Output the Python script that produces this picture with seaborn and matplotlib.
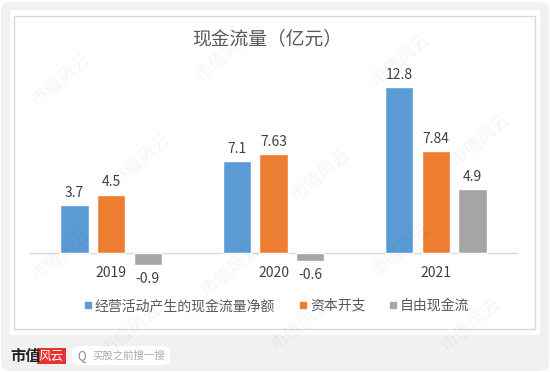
import matplotlib
matplotlib.use("Agg")
import matplotlib.pyplot as plt
from matplotlib.patches import FancyBboxPatch, Rectangle
from matplotlib.lines import Line2D
import seaborn as sns
import pandas as pd

years = ["2019", "2020", "2021"]
series_names = ["经营活动产生的现金流量净额", "资本开支", "自由现金流"]
op_cash = [3.7, 7.1, 12.8]
capex = [4.5, 7.63, 7.84]
fcf = [-0.9, -0.6, 4.9]
labels_op = ["3.7", "7.1", "12.8"]
labels_capex = ["4.5", "7.63", "7.84"]
labels_fcf = ["-0.9", "-0.6", "4.9"]
colors = ["#5B9BD5", "#ED7D31", "#A5A5A5"]
title = "现金流量（亿元）"

sns.set_theme(style="white")
plt.rcParams['font.family'] = ['Noto Sans CJK SC', 'DejaVu Sans']

rows = []
for vals, name in zip([op_cash, capex, fcf], series_names):
    for y, v in zip(years, vals):
        rows.append({"year": y, "value": v, "series": name})
df = pd.DataFrame(rows)

W, H = 550, 372
fig = plt.figure(figsize=(W / 100, H / 100), dpi=100)
fig.patch.set_facecolor("white")

def fx(px):
    return px / W

def fy(py):
    return 1 - py / H

# outer gray rounded background
fig.patches.append(FancyBboxPatch((fx(1), fy(371)), fx(548), 369 / H,
                                  boxstyle="round,pad=0,rounding_size=0.02",
                                  transform=fig.transFigure, facecolor="#F1F1F1",
                                  edgecolor="none", zorder=-3))
# white panel
fig.patches.append(Rectangle((fx(10), fy(335)), fx(530), 325 / H,
                             transform=fig.transFigure, facecolor="white",
                             edgecolor="none", zorder=-2))
# inner border
fig.patches.append(Rectangle((fx(13.5), fy(329)), fx(521.5), 313 / H,
                             transform=fig.transFigure, facecolor="none",
                             edgecolor="#D9D9D9", linewidth=1, zorder=-1))

ax = fig.add_axes([fx(30), fy(279), fx(487), 208 / H])
ax.set_zorder(1)
ax.set_facecolor("none")
ax.patch.set_alpha(0)
sns.barplot(data=df, x="year", y="value", hue="series", palette=colors,
            width=0.677, gap=0.22, ax=ax, errorbar=None, saturation=1,
            legend=False, zorder=3)
ax.set_ylim(-2, 14)
ax.set_xlim(-0.5, 2.5)
ax.set_xlabel("")
ax.set_ylabel("")
ax.set_yticks([])
for s in ["top", "left", "right"]:
    ax.spines[s].set_visible(False)
ax.spines["bottom"].set_position(("data", 0))
ax.spines["bottom"].set_color("#D9D9D9")
ax.spines["bottom"].set_linewidth(1)
ax.tick_params(axis="x", length=0, pad=9.5, labelsize=10, labelcolor="#404040")

all_labels = [labels_op, labels_capex, labels_fcf]
for cont, labs in zip(ax.containers, all_labels):
    for bar, lab in zip(cont, labs):
        h = bar.get_height()
        xc = bar.get_x() + bar.get_width() / 2
        off = 12 if h >= 0 else -14
        ax.annotate(lab, (xc, h), xytext=(0, off * 0.72), textcoords="offset points",
                    ha="center", va="center", fontsize=10, color="#404040")

fig.text(fx(267), fy(39), title, fontsize=13.5, color="#595959",
         ha="center", va="center", zorder=5)

handles = [Line2D([], [], marker="s", linestyle="none", markersize=5,
                  markerfacecolor=c, markeredgecolor=c) for c in colors]
leg = fig.legend(handles, series_names, loc="center", bbox_to_anchor=(fx(276), fy(306)),
                 ncol=3, frameon=False, fontsize=10, labelcolor="#595959",
                 handletextpad=0.1, columnspacing=1.6, handlelength=0.8)
leg.set_zorder(5)

# watermarks (drawn over everything, faint)
wm_pos = [(60, 80), (225, 55), (400, 60), (140, 160), (320, 175), (480, 140),
          (60, 255), (230, 270), (400, 250), (130, 330), (300, 325), (470, 325)]
for (x, y) in wm_pos:
    fig.text(fx(x), fy(y), "市值风云", fontsize=13, color="#000000", alpha=0.045,
             rotation=40, ha="center", va="center", zorder=10)

# bottom brand bar
fig.text(fx(10.5), fy(356), "市值", fontsize=11, fontweight="bold", color="#222222",
         ha="left", va="center", zorder=6)
fig.patches.append(Rectangle((fx(37), fy(364)), fx(29), 16 / H,
                             transform=fig.transFigure, facecolor="#E8322E",
                             edgecolor="none", zorder=5))
fig.text(fx(51.5), fy(356), "风云", fontsize=9, color="white", style="italic",
         ha="center", va="center", zorder=6)
fig.patches.append(FancyBboxPatch((fx(72), fy(365)), fx(98), 19 / H,
                                  boxstyle="round,pad=0,rounding_size=0.017",
                                  transform=fig.transFigure, facecolor="white",
                                  edgecolor="none", zorder=5))
fig.text(fx(82), fy(355.5), "Q", fontsize=8.5, color="#888888",
         ha="center", va="center", zorder=6)
fig.text(fx(92), fy(355.5), "买股之前搜一搜", fontsize=7.5, color="#AAAAAA",
         ha="left", va="center", zorder=6)

fig.savefig("out.png", dpi=100)
